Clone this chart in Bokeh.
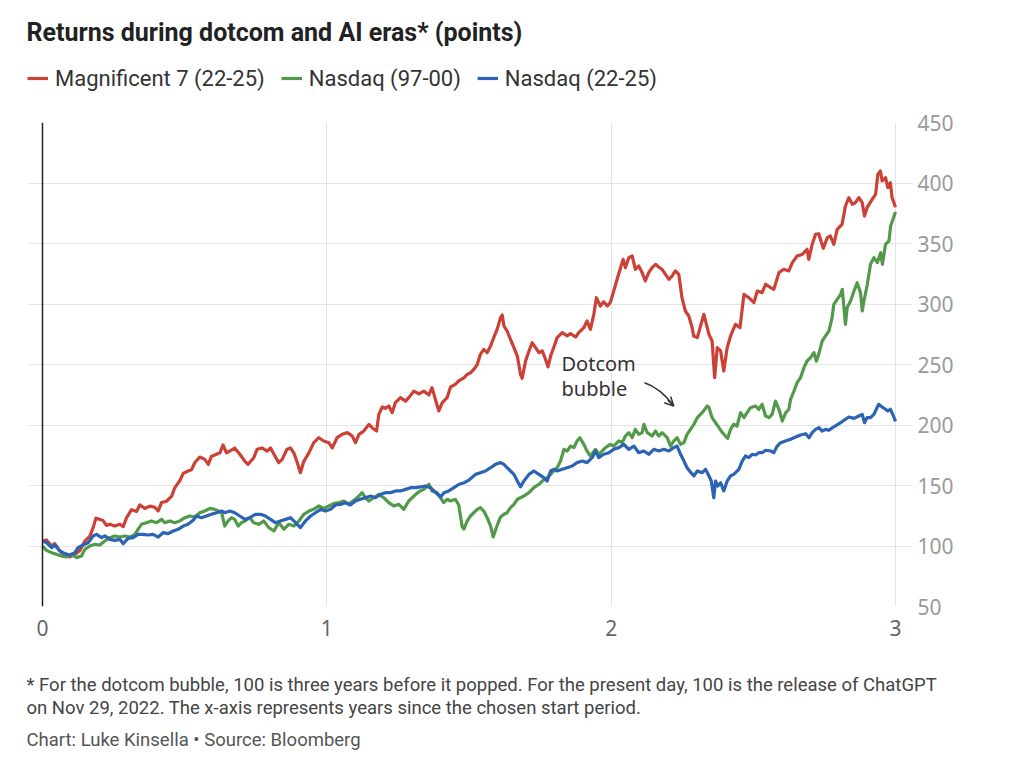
from bokeh.plotting import figure
from bokeh.layouts import column
from bokeh.models import Range1d, Span, Label, Legend, LegendItem, FixedTicker, Arrow, OpenHead
from bokeh.embed import file_html
from bokeh.resources import INLINE

# ---------------- data (years since start, index points) ----------------
red_x = [0.000, 0.014, 0.032, 0.043, 0.061, 0.079, 0.096, 0.114, 0.131, 0.149,
         0.166, 0.178, 0.188, 0.202, 0.213, 0.225, 0.237, 0.254, 0.272, 0.284,
         0.295, 0.313, 0.331, 0.342, 0.360, 0.377, 0.395, 0.407, 0.419, 0.436,
         0.454, 0.465, 0.483, 0.495, 0.512, 0.524, 0.536, 0.553, 0.571, 0.583,
         0.594, 0.612, 0.624, 0.635, 0.647, 0.659, 0.676, 0.694, 0.712, 0.723,
         0.743, 0.755, 0.772, 0.790, 0.802, 0.814, 0.831, 0.843, 0.860, 0.872,
         0.884, 0.896, 0.907, 0.919, 0.937, 0.954, 0.972, 0.989, 1.007, 1.019,
         1.036, 1.054, 1.072, 1.089, 1.101, 1.113, 1.130, 1.148, 1.159, 1.175,
         1.183, 1.195, 1.206, 1.218, 1.230, 1.241, 1.259, 1.277, 1.288, 1.306,
         1.324, 1.341, 1.359, 1.370, 1.382, 1.394, 1.406, 1.423, 1.435, 1.452,
         1.464, 1.482, 1.494, 1.505, 1.517, 1.529, 1.540, 1.552, 1.564, 1.576,
         1.587, 1.599, 1.611, 1.617, 1.623, 1.634, 1.646, 1.658, 1.670, 1.681,
         1.687, 1.699, 1.711, 1.722, 1.734, 1.746, 1.758, 1.769, 1.778, 1.787,
         1.798, 1.810, 1.828, 1.845, 1.857, 1.875, 1.886, 1.904, 1.915, 1.927,
         1.939, 1.948, 1.962, 1.974, 1.986, 1.997, 2.009, 2.021, 2.033, 2.042,
         2.050, 2.062, 2.074, 2.085, 2.097, 2.109, 2.120, 2.132, 2.144, 2.156,
         2.167, 2.179, 2.191, 2.203, 2.214, 2.226, 2.238, 2.249, 2.261, 2.273,
         2.285, 2.290, 2.303, 2.326, 2.344, 2.355, 2.364, 2.373, 2.385, 2.396,
         2.408, 2.420, 2.437, 2.453, 2.467, 2.484, 2.502, 2.514, 2.531, 2.543,
         2.561, 2.572, 2.590, 2.607, 2.625, 2.637, 2.654, 2.672, 2.689, 2.695,
         2.707, 2.719, 2.730, 2.746, 2.760, 2.771, 2.783, 2.795, 2.812, 2.824,
         2.836, 2.848, 2.859, 2.871, 2.883, 2.891, 2.900, 2.918, 2.930, 2.938,
         2.947, 2.953, 2.965, 2.973, 2.982, 2.988, 3.000]
magnificent7 = [104, 105, 100, 102, 96, 92, 91, 93, 96, 104,
                108, 115, 123, 122, 121, 117, 118, 116.5, 118, 116,
                123, 130, 128.5, 134, 131, 133, 132, 129, 136, 137,
                141, 148, 154, 160, 162, 163, 169, 173.5, 171.6, 167.5,
                174, 175.8, 177, 183.5, 177, 178.5, 181, 175.8, 170, 167.5,
                173, 180, 181, 178.5, 181, 175.8, 168.9, 171.6, 180, 181,
                177, 169, 160.6, 170, 177, 185.4, 189.5, 186.8, 185.4, 181,
                189.5, 192.3, 193.7, 191, 185.4, 192.3, 195, 200.5, 197.8, 195,
                208.8, 214.9, 213.8, 215.7, 210.2, 218.5, 222.6, 219.8, 222.6, 228,
                225.8, 228, 224.8, 230.9, 221, 211.6, 218.5, 222.6, 231.4, 233.6,
                236.4, 239, 241.9, 243, 246, 250, 258.4, 262.5, 259.8, 265.3,
                272.2, 279, 288.7, 290.9, 281.8, 277.7, 270.8, 263.9, 257, 241.9,
                238.6, 252.9, 261.2, 268, 264, 259.8, 261.2, 254.3, 248, 257,
                264, 272.2, 276.3, 273.6, 275.5, 272.7, 276.3, 280.4, 286, 279,
                291.5, 305.2, 298.3, 301.9, 298.3, 301.1, 310.7, 320.4, 330, 336.9,
                330, 338.3, 339.7, 328.7, 331.5, 325.9, 319, 325.9, 330, 332.8,
                330.6, 328.7, 324.5, 320.4, 323.1, 327.3, 324.5, 305.2, 294.2, 290.1,
                280.4, 273.6, 272.2, 291.5, 274.9, 269.4, 239.1, 263.9, 261.2, 244.6,
                263.9, 273.6, 283.2, 280.4, 308, 305.2, 301.1, 310.7, 309.4, 316.3,
                313.5, 312.1, 325.9, 328.7, 327.3, 334.2, 339.7, 341, 345.2, 336.9,
                349.3, 357.6, 358.1, 346, 354.8, 356.2, 349.3, 361.7, 365.8, 381,
                387.9, 382.4, 383.7, 387.9, 383.7, 372.7, 379.6, 386.5, 390.6, 407.2,
                409.9, 401.7, 404.4, 396.1, 400.3, 387.9, 380]

green_x = [0.000, 0.014, 0.032, 0.049, 0.067, 0.084, 0.102, 0.120, 0.137, 0.149,
           0.166, 0.184, 0.202, 0.219, 0.237, 0.254, 0.272, 0.290, 0.307, 0.325,
           0.336, 0.348, 0.366, 0.383, 0.401, 0.419, 0.430, 0.448, 0.465, 0.483,
           0.501, 0.518, 0.536, 0.553, 0.571, 0.589, 0.606, 0.618, 0.630, 0.641,
           0.653, 0.665, 0.676, 0.688, 0.700, 0.712, 0.729, 0.743, 0.761, 0.778,
           0.796, 0.814, 0.831, 0.849, 0.866, 0.884, 0.902, 0.919, 0.937, 0.954,
           0.972, 0.989, 1.007, 1.024, 1.042, 1.060, 1.077, 1.095, 1.113, 1.124,
           1.136, 1.148, 1.165, 1.183, 1.200, 1.218, 1.235, 1.253, 1.271, 1.288,
           1.306, 1.324, 1.341, 1.359, 1.370, 1.388, 1.400, 1.411, 1.423, 1.435,
           1.452, 1.464, 1.476, 1.482, 1.494, 1.505, 1.517, 1.529, 1.540, 1.552,
           1.564, 1.576, 1.585, 1.599, 1.611, 1.623, 1.634, 1.646, 1.658, 1.670,
           1.681, 1.693, 1.711, 1.728, 1.746, 1.758, 1.775, 1.787, 1.798, 1.810,
           1.822, 1.834, 1.845, 1.857, 1.869, 1.880, 1.890, 1.904, 1.915, 1.927,
           1.945, 1.957, 1.968, 1.980, 1.997, 2.009, 2.027, 2.039, 2.050, 2.062,
           2.074, 2.085, 2.097, 2.109, 2.115, 2.127, 2.144, 2.156, 2.167, 2.179,
           2.197, 2.209, 2.220, 2.232, 2.244, 2.256, 2.267, 2.279, 2.291, 2.303,
           2.320, 2.338, 2.344, 2.355, 2.367, 2.379, 2.391, 2.402, 2.410, 2.420,
           2.431, 2.443, 2.455, 2.467, 2.478, 2.490, 2.508, 2.519, 2.531, 2.543,
           2.555, 2.566, 2.578, 2.590, 2.602, 2.614, 2.625, 2.631, 2.643, 2.654,
           2.666, 2.678, 2.689, 2.701, 2.713, 2.722, 2.730, 2.742, 2.754, 2.766,
           2.777, 2.783, 2.795, 2.807, 2.813, 2.824, 2.830, 2.842, 2.854, 2.865,
           2.877, 2.883, 2.889, 2.901, 2.912, 2.924, 2.936, 2.948, 2.954, 2.965,
           2.977, 2.983, 2.993, 3.000]
nasdaq_97_00 = [100, 96.4, 94.5, 93.1, 91.7, 90.9, 93.1, 90.4, 91.7, 97.2,
                100, 101.4, 100.8, 104.1, 106.9, 108.3, 107.4, 108.3, 107.4, 109.6,
                113.8, 117.9, 119.3, 120.7, 119.3, 122, 119.3, 120.7, 119.3, 120.7,
                123.4, 124.8, 124, 127.5, 128.9, 131.1, 130.3, 128.9, 127.5, 116.5,
                120.7, 123.4, 122, 116.5, 119.3, 120.7, 123.4, 119.3, 117.9, 120.7,
                115.2, 112.4, 119.3, 113.8, 117.9, 116.5, 120.7, 126.2, 128.9, 130.3,
                133.1, 131.1, 133.1, 135, 135.8, 137.2, 134.4, 137.7, 141.3, 144.1,
                139.9, 137.2, 139.9, 142.7, 139.9, 135.8, 133.1, 134.4, 130.3, 137.2,
                141.3, 144.9, 146.8, 151, 145.5, 144.1, 139.9, 135.8, 138.6, 137.2,
                138.6, 133.9, 116, 114, 120.7, 124.8, 127.5, 130.3, 131.7, 128.9,
                123.4, 116.5, 107.5, 117, 124, 126.2, 127.5, 131.7, 134.4, 138.6,
                139.9, 141.3, 144.1, 148.2, 151, 153.7, 156.5, 159.2, 162, 164.7,
                170.2, 179.9, 178.5, 182.6, 181.3, 186.8, 189.5, 184, 178.5, 174.4,
                179.9, 175.8, 178.5, 181.3, 184, 182.6, 186.8, 185.4, 190.9, 193.7,
                189.5, 196.4, 192.3, 193.7, 200.6, 193.7, 190.9, 195, 190.9, 193.7,
                189.5, 182.6, 186.8, 189.5, 184, 185.4, 192.3, 196.4, 200.6, 206.1,
                210.2, 215.7, 214.3, 206.1, 201.9, 197.8, 193.7, 190.9, 189, 196.4,
                200.6, 199.2, 210.2, 206.1, 210.2, 214.3, 215.7, 213, 217.1, 207.4,
                206.1, 208.8, 219.8, 213, 203.3, 210.2, 213, 221.2, 228.1, 235,
                239.1, 247.4, 252.9, 255.6, 259.8, 252.9, 258.4, 269.4, 273.6, 277.7,
                288.7, 299.7, 303.9, 308, 312.1, 283.2, 297, 302.5, 310.7, 317.6,
                309.4, 294.2, 302.5, 316.3, 332.8, 338.3, 334.2, 342.4, 332.8, 349.3,
                352.1, 364.5, 371.3, 376]

blue_x = [0.000, 0.014, 0.032, 0.043, 0.061, 0.079, 0.096, 0.114, 0.125, 0.143,
          0.161, 0.178, 0.190, 0.208, 0.219, 0.237, 0.254, 0.272, 0.284, 0.301,
          0.319, 0.336, 0.354, 0.372, 0.389, 0.407, 0.424, 0.442, 0.460, 0.477,
          0.495, 0.512, 0.530, 0.542, 0.559, 0.577, 0.594, 0.612, 0.630, 0.641,
          0.659, 0.676, 0.694, 0.712, 0.729, 0.749, 0.767, 0.784, 0.802, 0.819,
          0.837, 0.855, 0.872, 0.890, 0.907, 0.925, 0.943, 0.960, 0.978, 0.995,
          1.013, 1.030, 1.048, 1.066, 1.083, 1.101, 1.118, 1.136, 1.154, 1.171,
          1.189, 1.206, 1.224, 1.242, 1.259, 1.277, 1.295, 1.312, 1.330, 1.347,
          1.365, 1.383, 1.400, 1.412, 1.429, 1.447, 1.465, 1.483, 1.500, 1.523,
          1.540, 1.558, 1.576, 1.593, 1.611, 1.623, 1.634, 1.646, 1.658, 1.670,
          1.681, 1.693, 1.711, 1.728, 1.746, 1.763, 1.775, 1.787, 1.798, 1.810,
          1.828, 1.845, 1.863, 1.880, 1.898, 1.915, 1.933, 1.945, 1.956, 1.974,
          1.992, 2.009, 2.027, 2.045, 2.062, 2.080, 2.097, 2.115, 2.132, 2.150,
          2.168, 2.185, 2.203, 2.220, 2.232, 2.244, 2.256, 2.267, 2.279, 2.291,
          2.303, 2.320, 2.332, 2.344, 2.352, 2.361, 2.367, 2.375, 2.385, 2.396,
          2.408, 2.420, 2.431, 2.449, 2.461, 2.472, 2.484, 2.496, 2.508, 2.519,
          2.531, 2.543, 2.561, 2.572, 2.584, 2.596, 2.613, 2.631, 2.649, 2.666,
          2.684, 2.696, 2.707, 2.719, 2.731, 2.742, 2.754, 2.766, 2.778, 2.789,
          2.807, 2.824, 2.836, 2.854, 2.871, 2.883, 2.891, 2.900, 2.912, 2.924,
          2.941, 2.953, 2.965, 2.973, 2.982, 2.993, 3.000]
nasdaq_22_25 = [104, 102.8, 98.6, 100.8, 95.9, 93.7, 92.6, 94.5, 98.6, 100.8,
                102.8, 108.3, 109.6, 106.9, 108.3, 105.5, 104.7, 105.5, 101.9, 106.3,
                106.9, 109.6, 109.6, 109.1, 109.6, 107.4, 111, 110.2, 112.4, 113.8,
                116.5, 117.9, 121.2, 124.8, 123.4, 124.8, 126.2, 127.5, 128.9, 127.5,
                128.9, 127.5, 124.8, 122, 123.4, 126.2, 126.2, 124.8, 122, 119.3,
                120.7, 122, 123.4, 119.3, 115.2, 120.7, 124.8, 127.5, 130.3, 128.9,
                130.3, 133.9, 134.4, 135.8, 133.9, 137.2, 138.6, 139.9, 141.3, 139.9,
                142.7, 144.1, 144.1, 145.5, 145.5, 146.8, 148.2, 148.2, 148.8, 149.6,
                148.2, 144.1, 140.5, 144.1, 145.5, 148.2, 151, 152.3, 154.5, 159.2,
                160.6, 162, 164.7, 167.5, 168.9, 167.5, 164.7, 162, 159.2, 153.7,
                148.9, 153.7, 159.2, 162, 159.2, 156.5, 153.7, 162, 163.4, 162,
                163.4, 164.7, 166.1, 168.9, 170.2, 168.9, 173, 178.5, 173, 175.8,
                177.1, 179.9, 181.3, 184, 179.9, 182.6, 177.1, 178.5, 175.8, 179.9,
                178.5, 179.9, 178.5, 181.3, 182.6, 175.8, 170.2, 164.7, 161, 158,
                162, 160.6, 163.4, 157.9, 153.7, 139.9, 153.7, 149.6, 152.3, 145.5,
                153.7, 157.9, 159.2, 163.4, 170.2, 174.4, 173, 175.8, 175.2, 177.1,
                177.1, 179.1, 178.5, 177.1, 182.6, 185.4, 186.8, 188.2, 190.1, 191.7,
                192.8, 189.5, 193.7, 196.4, 197.8, 195, 196.4, 195.6, 197.8, 199.2,
                201.9, 204.7, 206.6, 205.5, 207.4, 208.8, 201.9, 206.1, 206.1, 208.8,
                217.1, 214.9, 213, 211.6, 213, 207.4, 203]

series_names = ["Magnificent 7 (22-25)", "Nasdaq (97-00)", "Nasdaq (22-25)"]
y_ticks = [50, 100, 150, 200, 250, 300, 350, 400, 450]
x_ticks = [0, 1, 2, 3]

title_text = "Returns during dotcom and AI eras* (points)"
note_line1 = ("* For the dotcom bubble, 100 is three years before it popped. "
              "For the present day, 100 is the release of ChatGPT")
note_line2 = "on Nov 29, 2022. The x-axis represents years since the chosen start period."
credit_text = "Chart: Luke Kinsella \u2022 Source: Bloomberg"
annot_lines = ["Dotcom", "bubble"]

# ---------------- styling ----------------
RED = "#cc4136"
GREEN = "#52994a"
BLUE = "#2c63b4"
GRID = "#e4e4e4"
LINE_W = 3.2
W = 1024
HEAD_H, MAIN_H, FOOT_H = 100, 560, 117
NAN = float("nan")


def blank(height):
    f = figure(width=W, height=height, output_backend="svg", toolbar_location=None,
               x_axis_type=None, y_axis_type=None,
               x_range=Range1d(0, W), y_range=Range1d(height, 0),
               min_border=0, min_border_left=0, min_border_right=0,
               min_border_top=0, min_border_bottom=0)
    f.frame_align = False
    f.outline_line_color = None
    f.background_fill_color = "white"
    f.border_fill_color = "white"
    return f


# ---------------- header: title + legend ----------------
head = blank(HEAD_H)
head.add_layout(Label(x=26, y=32, text=title_text, text_font="Roboto",
                      text_font_style="bold", text_font_size="25px",
                      text_color="#222222", text_baseline="middle"))
key_renderers = [head.line(x=[NAN], y=[NAN], line_color=c, line_width=LINE_W) for c in (RED, GREEN, BLUE)]
legend = Legend(items=[LegendItem(label=n, renderers=[r]) for n, r in zip(series_names, key_renderers)],
                orientation="horizontal", location=(27, 9),
                glyph_width=21, glyph_height=26, label_standoff=7, spacing=16,
                padding=0, margin=0, border_line_color=None, background_fill_alpha=0,
                label_text_font="Roboto", label_text_font_size="22px",
                label_text_color="#333333", label_height=26)
head.add_layout(legend)

# ---------------- main chart ----------------
p = figure(width=W, height=MAIN_H, output_backend="svg", toolbar_location=None,
           x_range=Range1d(-0.0492, 3.0598), y_range=Range1d(50, 450),
           y_axis_location="right",
           min_border_left=28, min_border_right=112,
           min_border_top=22, min_border_bottom=54)
p.frame_align = False
p.outline_line_color = None
p.background_fill_color = "white"
p.border_fill_color = "white"

p.xgrid.ticker = FixedTicker(ticks=x_ticks)
p.ygrid.ticker = FixedTicker(ticks=y_ticks)
p.grid.grid_line_color = GRID
p.grid.grid_line_width = 1

for ax in (p.xaxis, p.yaxis):
    ax.axis_line_color = None
    ax.major_tick_line_color = None
    ax.minor_tick_line_color = None
    ax.major_tick_out = 0
    ax.major_tick_in = 0
    ax.minor_tick_out = 0
    ax.major_label_text_font = "Noto Sans"
    ax.major_label_text_font_size = "21px"

p.xaxis.ticker = FixedTicker(ticks=x_ticks)
p.xaxis.major_label_text_color = "#666666"
p.xaxis.major_label_standoff = 13
p.yaxis.ticker = FixedTicker(ticks=y_ticks)
p.yaxis.major_label_text_color = "#9a9a9a"
p.yaxis.major_label_standoff = 5

p.add_layout(Span(location=0, dimension="height", line_color="#222222", line_width=1.5))

p.line(red_x, magnificent7, line_color=RED, line_width=LINE_W, line_join="round")
p.line(green_x, nasdaq_97_00, line_color=GREEN, line_width=LINE_W, line_join="round")
p.line(blue_x, nasdaq_22_25, line_color=BLUE, line_width=LINE_W, line_join="round")

# "Dotcom bubble" annotation (screen units from the frame's bottom-left)
for txt, yy in zip(annot_lines, (243, 218)):
    p.add_layout(Label(x=533, y=yy, x_units="screen", y_units="screen", text=txt,
                       text_font="Noto Sans", text_font_size="20px",
                       text_color="#333333", text_baseline="middle"))

ARC_START = (2.1173, 234.96)
ARC_CTRL = (2.1736, 230.58)
ARC_END = (2.2203, 215.70)
HEAD_FROM = (2.1992, 220.66)
p.quadratic(x0=[ARC_START[0]], y0=[ARC_START[1]], x1=[ARC_END[0]], y1=[ARC_END[1]],
            cx=[ARC_CTRL[0]], cy=[ARC_CTRL[1]], line_color="#333333", line_width=1.5)
p.add_layout(Arrow(end=OpenHead(size=9, line_width=1.5, line_color="#333333"),
                   x_start=HEAD_FROM[0], y_start=HEAD_FROM[1],
                   x_end=ARC_END[0], y_end=ARC_END[1],
                   line_color="#333333", line_width=1.5))

# ---------------- footer: note + credit ----------------
foot = blank(FOOT_H)
for txt, yy, col in ((note_line1, 24, "#444444"), (note_line2, 47, "#444444"),
                     (credit_text, 79, "#555555")):
    foot.add_layout(Label(x=26, y=yy, text=txt, text_font="Roboto", text_font_size="18.5px",
                          text_color=col, text_baseline="middle"))

page = column(head, p, foot, spacing=0)
open("out.html", "w").write(file_html(page, INLINE, title="Returns during dotcom and AI eras"))
